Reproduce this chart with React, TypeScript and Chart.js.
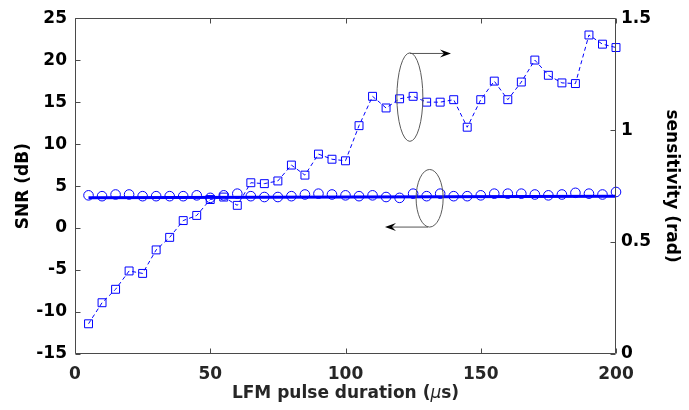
import React, { useEffect, useRef } from "react";
import { Chart, registerables } from "chart.js";

Chart.register(...registerables);

// ---------------- data ----------------
const durations = [
  5, 10, 15, 20, 25, 30, 35, 40, 45, 50, 55, 60, 65, 70, 75, 80, 85, 90, 95, 100,
  105, 110, 115, 120, 125, 130, 135, 140, 145, 150, 155, 160, 165, 170, 175, 180, 185, 190, 195, 200,
];
const snrValues = [
  3.9, 3.8, 4.0, 4.0, 3.8, 3.8, 3.8, 3.8, 3.9, 3.6, 3.9, 4.1, 3.8, 3.7, 3.7, 3.8, 4.0, 4.1, 4.0, 3.9,
  3.8, 3.9, 3.7, 3.6, 4.1, 3.8, 4.1, 3.8, 3.8, 3.9, 4.1, 4.1, 4.1, 4.0, 3.9, 4.0, 4.2, 4.1, 4.0, 4.3,
];
const sensitivityValues = [
  0.135, 0.229, 0.289, 0.371, 0.36, 0.465, 0.521, 0.596, 0.619, 0.69, 0.701, 0.664, 0.765, 0.761, 0.773, 0.844, 0.799, 0.893, 0.87, 0.863,
  1.02, 1.151, 1.099, 1.14, 1.151, 1.125, 1.125, 1.136, 1.013, 1.136, 1.219, 1.136, 1.215, 1.313, 1.245, 1.211, 1.208, 1.425, 1.384, 1.369,
];
const fitDurations = [5, 200];
const fitSnr = [3.6, 3.8];

const xTickValues = [0, 50, 100, 150, 200];
const snrTickValues = [-15, -10, -5, 0, 5, 10, 15, 20, 25];
const sensTickValues = [0, 0.5, 1, 1.5];

// x-axis title pieces (the μ is italic in the original)
const xTitleParts = [
  { text: "LFM pulse duration (", italic: false },
  { text: "μ", italic: true },
  { text: "s)", italic: false },
];

// annotation shapes in data units (x: duration, y: SNR axis)
const ellipses = [
  { cx: 123.8, cy: 15.6, rx: 4.8, ry: 5.27 },
  { cx: 131.1, cy: 3.55, rx: 5.0, ry: 3.43 },
];
const arrows = [
  { x0: 123.8, y0: 20.8, x1: 139.0, y1: 20.8 },
  { x0: 130.5, y0: 0.12, x1: 114.6, y1: 0.12 },
];

const FONT = "'DejaVu Sans', 'Liberation Sans', sans-serif";
const BLUE = "#0000ff";

const framePlugin = {
  id: "frame",
  afterDatasetsDraw(chart: any) {
    const { ctx, chartArea, scales } = chart;
    const { left, right, top, bottom } = chartArea;
    const tl = 5;
    ctx.save();
    ctx.strokeStyle = "#4a4a4a";
    ctx.lineWidth = 1;
    const L = Math.round(left) + 0.5;
    const R = Math.round(right) - 0.5;
    const T = Math.round(top) + 0.5;
    const B = Math.round(bottom) - 0.5;
    ctx.beginPath();
    ctx.moveTo(L, T);
    ctx.lineTo(R, T);
    ctx.lineTo(R, B);
    ctx.lineTo(L, B);
    ctx.closePath();
    ctx.stroke();
    ctx.beginPath();
    scales.x.ticks.forEach((t: any) => {
      const px = Math.round(scales.x.getPixelForValue(t.value)) + 0.5;
      ctx.moveTo(px, B);
      ctx.lineTo(px, B - tl);
      ctx.moveTo(px, T);
      ctx.lineTo(px, T + tl);
    });
    scales.y.ticks.forEach((t: any) => {
      const py = Math.round(scales.y.getPixelForValue(t.value)) + 0.5;
      ctx.moveTo(L, py);
      ctx.lineTo(L + tl, py);
    });
    scales.y1.ticks.forEach((t: any) => {
      const py = Math.round(scales.y1.getPixelForValue(t.value)) + 0.5;
      ctx.moveTo(R, py);
      ctx.lineTo(R - tl, py);
    });
    ctx.stroke();

    // x-axis title with italic mu
    const boldFont = `bold 17px ${FONT}`;
    const italicFont = `italic 17px ${FONT}`;
    let total = 0;
    xTitleParts.forEach((p) => {
      ctx.font = p.italic ? italicFont : boldFont;
      total += ctx.measureText(p.text).width;
    });
    let x = (left + right) / 2 - total / 2;
    const y = chart.height - 12;
    ctx.fillStyle = "#262626";
    ctx.textBaseline = "alphabetic";
    ctx.textAlign = "left";
    xTitleParts.forEach((p) => {
      ctx.font = p.italic ? italicFont : boldFont;
      ctx.fillText(p.text, x, y);
      x += ctx.measureText(p.text).width;
    });
    ctx.restore();
  },
};

const annotationPlugin = {
  id: "annot",
  afterDatasetsDraw(chart: any) {
    const { ctx, scales } = chart;
    const sx = scales.x;
    const sy = scales.y;
    ctx.save();
    ctx.strokeStyle = "#5a5a5a";
    ctx.lineWidth = 1;
    ellipses.forEach((e) => {
      const cx = sx.getPixelForValue(e.cx);
      const cy = sy.getPixelForValue(e.cy);
      const rx = Math.abs(sx.getPixelForValue(e.cx + e.rx) - cx);
      const ry = Math.abs(sy.getPixelForValue(e.cy + e.ry) - cy);
      ctx.beginPath();
      ctx.ellipse(cx, cy, rx, ry, 0, 0, Math.PI * 2);
      ctx.stroke();
    });
    arrows.forEach((a) => {
      const x0 = sx.getPixelForValue(a.x0);
      const y0 = sy.getPixelForValue(a.y0);
      const x1 = sx.getPixelForValue(a.x1);
      const y1 = sy.getPixelForValue(a.y1);
      const ang = Math.atan2(y1 - y0, x1 - x0);
      const len = 11;
      const half = 4;
      const notch = 7;
      const ca = Math.cos(ang);
      const sa = Math.sin(ang);
      ctx.strokeStyle = "#555555";
      ctx.beginPath();
      ctx.moveTo(x0, y0);
      ctx.lineTo(x1 - ca * notch, y1 - sa * notch);
      ctx.stroke();
      ctx.fillStyle = "#000000";
      ctx.beginPath();
      ctx.moveTo(x1, y1);
      ctx.lineTo(x1 - ca * len - sa * half, y1 - sa * len + ca * half);
      ctx.lineTo(x1 - ca * notch, y1 - sa * notch);
      ctx.lineTo(x1 - ca * len + sa * half, y1 - sa * len - ca * half);
      ctx.closePath();
      ctx.fill();
    });
    ctx.restore();
  },
};

export default function App() {
  const canvasRef = useRef<HTMLCanvasElement | null>(null);

  useEffect(() => {
    if (!canvasRef.current) return;
    const snrData = durations.map((d, i) => ({ x: d, y: snrValues[i] }));
    const sensData = durations.map((d, i) => ({ x: d, y: sensitivityValues[i] }));
    const fitData = fitDurations.map((d, i) => ({ x: d, y: fitSnr[i] }));

    const chart = new Chart(canvasRef.current, {
      type: "line",
      data: {
        datasets: [
          {
            label: "SNR",
            data: snrData,
            yAxisID: "y",
            showLine: false,
            pointStyle: "circle",
            pointRadius: 4.8,
            pointBorderWidth: 1,
            borderColor: BLUE,
            pointBorderColor: BLUE,
            pointBackgroundColor: "rgba(0,0,0,0)",
            clip: false,
          } as any,
          {
            label: "SNR fit",
            data: fitData,
            yAxisID: "y",
            borderColor: BLUE,
            borderWidth: 3,
            pointRadius: 0,
            clip: false,
          } as any,
          {
            label: "sensitivity",
            data: sensData,
            yAxisID: "y1",
            borderColor: BLUE,
            borderWidth: 1,
            borderDash: [4, 3],
            pointStyle: "rect",
            pointRadius: 5.6,
            pointBorderWidth: 1,
            pointBorderColor: BLUE,
            pointBackgroundColor: "rgba(0,0,0,0)",
            clip: false,
          } as any,
        ],
      },
      options: {
        responsive: false,
        animation: false,
        devicePixelRatio: 1,
        layout: { padding: { top: 16, left: 0, right: 0, bottom: 0 } },
        plugins: { legend: { display: false }, tooltip: { enabled: false } },
        scales: {
          x: {
            type: "linear",
            min: 0,
            max: 200,
            afterBuildTicks: (s: any) => {
              s.ticks = xTickValues.map((v) => ({ value: v }));
            },
            afterFit: (s: any) => {
              s.height = 56;
              s.paddingLeft = 0;
              s.paddingRight = 0;
            },
            grid: { display: false, drawTicks: false },
            border: { display: false },
            ticks: {
              padding: 10,
              color: "#262626",
              font: { family: FONT, size: 17, weight: "bold" },
              maxRotation: 0,
            },
            title: { display: false },
          },
          y: {
            type: "linear",
            position: "left",
            min: -15,
            max: 25,
            afterBuildTicks: (s: any) => {
              s.ticks = snrTickValues.map((v) => ({ value: v }));
            },
            afterFit: (s: any) => {
              s.width = 75;
            },
            grid: { display: false, drawTicks: false },
            border: { display: false },
            ticks: {
              padding: 8,
              color: "#000000",
              font: { family: FONT, size: 17, weight: "bold" },
            },
            title: {
              display: true,
              text: "SNR (dB)",
              color: "#000000",
              font: { family: FONT, size: 17, weight: "bold" },
              padding: { top: 13, bottom: 0 },
            },
          },
          y1: {
            type: "linear",
            position: "right",
            min: 0,
            max: 1.5,
            afterBuildTicks: (s: any) => {
              s.ticks = sensTickValues.map((v) => ({ value: v }));
            },
            afterFit: (s: any) => {
              s.width = 73;
            },
            grid: { display: false, drawTicks: false },
            border: { display: false },
            ticks: {
              padding: 5,
              color: "#000000",
              font: { family: FONT, size: 17, weight: "bold" },
              callback: (v: any) => String(v),
            },
            title: {
              display: true,
              text: "sensitivity (rad)",
              color: "#000000",
              font: { family: FONT, size: 17, weight: "bold" },
              padding: { top: 7, bottom: 0 },
            },
          },
        },
      },
      plugins: [framePlugin, annotationPlugin],
    } as any);

    return () => chart.destroy();
  }, []);

  return (
    <div style={{ position: "fixed", left: 0, top: 0, width: 689, height: 410, background: "#ffffff" }}>
      <canvas ref={canvasRef} width={689} height={410} style={{ width: 689, height: 410 }} />
    </div>
  );
}
